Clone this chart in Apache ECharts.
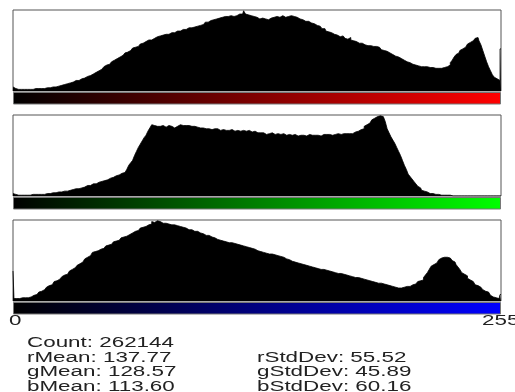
<!DOCTYPE html>
<html>
<head>
<meta charset="utf-8">
<script src="https://cdn.jsdelivr.net/npm/echarts@6/dist/echarts.min.js"></script>
<style>
  html, body { margin: 0; padding: 0; background: #fff; }
  #chart { width: 515px; height: 392px; }
</style>
</head>
<body>
<div id="chart"></div>
<script>
// Intensity levels 0..255 (category axis)
const levels = Array.from({ length: 256 }, (_, i) => String(i));

// Relative bin heights (percent of the tallest bin) per channel
const redCounts = [
  5,3,2,2,2,2,2,2,2,2,2,2,3,3,3,3,
  3,4,4,4,5,5,5,6,6,7,7,8,9,9,10,11,
  12,13,13,14,15,16,17,18,19,20,21,23,24,25,27,29,
  30,32,33,35,36,38,40,41,42,44,46,47,48,50,51,53,
  54,55,57,58,59,61,61,63,63,65,65,67,67,68,69,69,
  70,70,71,72,72,73,74,74,75,76,76,77,78,78,79,79,
  80,81,81,82,83,85,85,87,87,88,89,89,90,91,91,92,
  92,93,93,92,94,93,95,94,95,99,95,94,93,94,92,91,
  90,89,90,88,89,88,89,90,91,90,92,91,92,93,91,92,
  92,93,91,92,91,91,89,88,88,86,86,85,84,83,82,81,
  80,79,77,77,74,73,72,72,70,69,68,67,68,66,65,64,
  66,63,62,61,60,59,59,57,57,56,56,56,55,55,55,54,
  53,51,50,49,48,47,45,44,43,42,41,40,38,37,36,35,
  34,33,32,31,31,30,30,30,30,29,29,29,29,28,28,28,
  28,29,29,30,32,35,38,42,45,47,50,52,54,56,58,60,
  62,64,65,66,62,57,50,43,36,30,25,20,17,15,13,52
];
const greenCounts = [
  3,2,1,1,1,1,1,1,1,1,2,2,2,2,2,2,
  2,3,3,3,3,4,4,4,5,5,5,6,6,7,7,8,
  8,9,9,10,10,11,12,13,13,14,15,15,16,17,18,18,
  19,20,21,22,23,24,25,26,27,28,29,31,33,38,41,44,
  50,55,60,64,68,72,75,80,84,88,87,86,88,86,87,85,
  85,87,85,86,84,86,86,88,86,87,87,85,87,86,84,86,
  85,86,84,84,85,83,83,84,82,83,82,83,81,83,82,81,
  82,81,82,82,80,81,81,80,81,79,80,81,80,79,80,78,
  78,78,77,78,76,77,77,78,77,76,77,75,76,77,76,75,
  76,76,75,76,76,74,75,76,75,74,75,76,75,74,75,75,
  75,74,76,75,76,76,75,75,76,76,77,76,76,77,77,78,
  77,77,78,79,80,81,82,83,86,88,90,92,94,96,98,99,
  99,98,96,92,83,78,73,69,65,60,55,50,44,38,33,27,
  24,21,18,15,12,10,7,6,5,4,3,3,2,2,2,1,
  1,1,1,1,1,0,0,0,0,0,0,0,0,0,0,0,
  0,0,0,0,0,0,0,0,0,0,0,0,0,0,0,0
];
const blueCounts = [
  37,3,3,3,3,4,4,4,4,5,6,7,8,9,11,12,
  14,15,17,19,20,22,24,25,27,29,30,32,33,35,37,39,
  41,42,44,46,48,50,52,54,56,58,60,61,62,63,64,65,
  66,68,69,70,71,73,74,75,77,78,79,80,81,82,84,85,
  86,87,88,90,91,92,93,94,95,98,97,99,97,98,96,97,
  96,95,95,94,94,93,93,92,91,91,90,89,88,88,87,86,
  86,85,84,83,82,81,81,80,79,78,77,76,75,75,74,73,
  73,72,72,71,71,70,69,69,68,67,67,66,65,65,64,62,
  62,61,61,60,59,59,58,58,57,57,56,55,55,54,53,52,
  51,50,49,48,47,47,46,46,45,44,44,43,42,42,41,40,
  40,39,39,38,38,37,37,36,35,35,34,34,33,33,32,31,
  31,30,30,29,29,28,28,27,27,26,25,25,24,23,23,22,
  22,21,21,20,20,19,18,17,17,16,16,16,17,17,18,18,
  19,20,21,22,24,25,26,29,32,35,39,43,45,47,49,51,
  53,54,55,54,53,52,50,48,45,42,39,35,33,31,28,26,
  24,22,20,19,17,15,14,12,11,9,7,5,4,3,3,8
];

// Channel colours for the ramp under each histogram
const channelColors = ['#ff0000', '#00ff00', '#0000ff'];
const channelSeries = [redCounts, greenCounts, blueCounts];

// Axis end labels and summary statistics
const axisEndLabels = ['0', '255'];
const statsLeft = ['Count: 262144', 'rMean: 137.77', 'gMean: 128.57', 'bMean: 113.60'];
const statsRight = ['', 'rStdDev: 55.52', 'gStdDev: 45.89', 'bStdDev: 60.16'];

// Layout
const plotLeft = 13, plotWidth = 488, plotHeight = 81;
const panelTops = [10, 115, 220];
const rampGap = 1.5, rampHeight = 11.5;
const textFont = '14px "Liberation Sans", Arial, sans-serif';
const textStretch = 1.6;

const grid = [], xAxis = [], yAxis = [], series = [], graphic = [];

channelSeries.forEach((counts, i) => {
  grid.push({
    left: plotLeft, top: panelTops[i], width: plotWidth, height: plotHeight,
    show: true, borderColor: '#555', borderWidth: 1, backgroundColor: '#fff'
  });
  xAxis.push({ type: 'category', gridIndex: i, data: levels, show: false, boundaryGap: false });
  yAxis.push({ type: 'value', gridIndex: i, min: 0, max: 100, show: false });
  // Histogram drawn as a solid stepped area (one step per level)
  series.push({
    type: 'line', xAxisIndex: i, yAxisIndex: i, data: counts,
    step: 'middle', symbol: 'none', silent: true,
    lineStyle: { color: '#000', width: 0.8 },
    areaStyle: { color: '#000', opacity: 1 }
  });
  // Colour ramp from black to the channel colour
  graphic.push({
    type: 'rect', silent: true,
    shape: { x: plotLeft + 0.5, y: panelTops[i] + plotHeight + rampGap, width: plotWidth - 1, height: rampHeight },
    style: {
      fill: {
        type: 'linear', x: 0, y: 0, x2: 1, y2: 0,
        colorStops: [{ offset: 0, color: '#000' }, { offset: 1, color: channelColors[i] }]
      },
      stroke: '#777', lineWidth: 1
    }
  });
});

function stretchedText(str, x, y) {
  return {
    type: 'text', x: x, y: y, scaleX: textStretch, silent: true,
    style: {
      text: str, font: textFont, fill: '#222',
      align: 'left', verticalAlign: 'middle',
      textAlign: 'left', textVerticalAlign: 'middle'
    }
  };
}

graphic.push(stretchedText(axisEndLabels[0], 9, 321));
graphic.push(stretchedText(axisEndLabels[1], 482, 321));

const statRows = [343.5, 358, 372.5, 387];
statsLeft.forEach((s, k) => { if (s) graphic.push(stretchedText(s, 27, statRows[k])); });
statsRight.forEach((s, k) => { if (s) graphic.push(stretchedText(s, 257, statRows[k])); });

const chart = echarts.init(document.getElementById('chart'), null, { renderer: 'canvas' });
chart.setOption({
  animation: false,
  backgroundColor: '#fff',
  grid, xAxis, yAxis, series, graphic
});
</script>
</body>
</html>
